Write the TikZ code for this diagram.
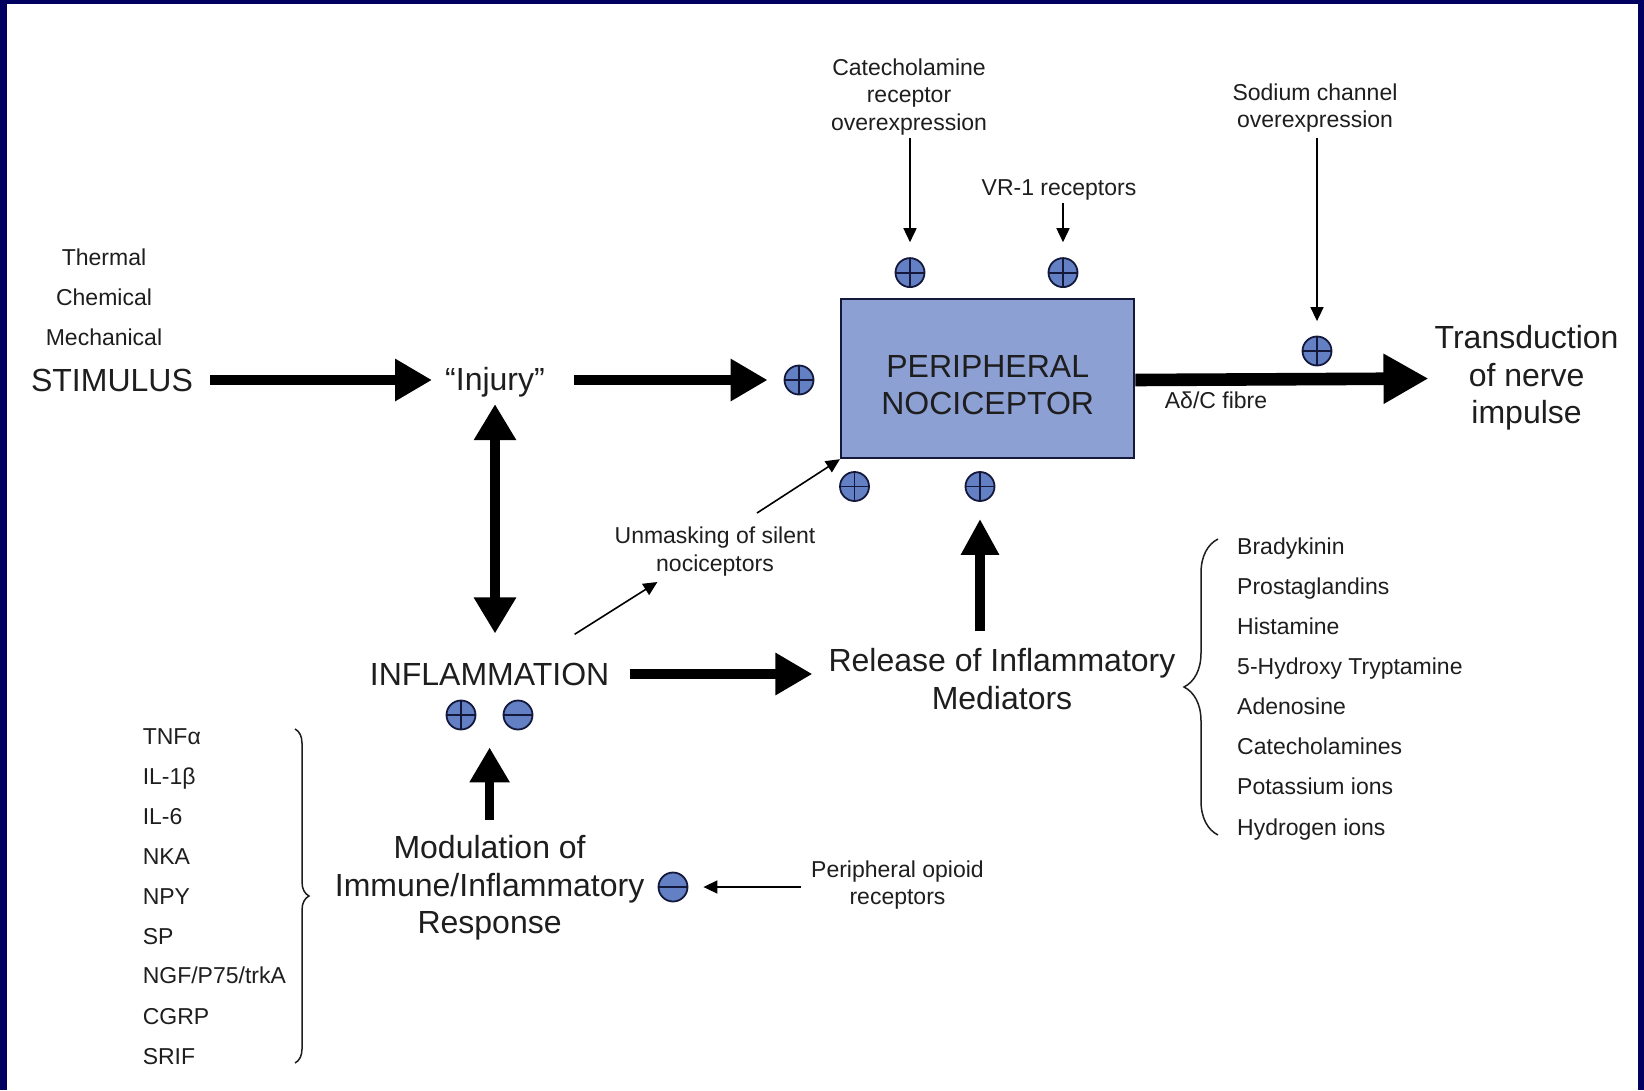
\documentclass[tikz,border=0pt]{standalone}
\usepackage{fontspec}
\setmainfont{Liberation Sans}
\usetikzlibrary{arrows.meta,decorations.pathreplacing}
\definecolor{navy}{RGB}{0,0,96}
\definecolor{txt}{RGB}{30,30,30}
\definecolor{boxfill}{RGB}{140,160,212}
\definecolor{signfill}{RGB}{100,128,196}
\definecolor{signline}{RGB}{20,25,60}
\begin{document}
\begin{tikzpicture}[x=1pt,y=-1pt,
  small/.style={font=\fontsize{23}{27.5}\selectfont,text=txt,inner sep=0pt,align=center},
  large/.style={font=\fontsize{32}{37.5}\selectfont,text=txt,inner sep=0pt,align=center},
  listitem/.style={small,anchor=west,align=left,text height=16.5pt,text depth=5pt},
  sgn/.style={circle,draw=signline,fill=signfill,line width=1.8pt,minimum size=29pt,inner sep=0pt},
  psign/.style={sgn,path picture={\draw[signline,line width=1.8pt]
      (path picture bounding box.north)--(path picture bounding box.south)
      (path picture bounding box.west)--(path picture bounding box.east);}},
  msign/.style={sgn,path picture={\draw[signline,line width=1.8pt]
      (path picture bounding box.west)--(path picture bounding box.east);}},
  bigarrow/.style={draw=black,line width=9.5pt,-{Triangle[length=37pt,width=40pt]}},
  bigdouble/.style={draw=black,line width=9.5pt,{Triangle[length=36pt,width=40pt]}-{Triangle[length=36pt,width=40pt]}},
  thinarrow/.style={draw=black,line width=1.6pt,-{Triangle[length=14pt,width=13pt]}},
  bracestyle/.style={draw=txt,line width=1.5pt,decorate}
]
% frame
\fill[navy] (0,0) rectangle (1644,1090);
\fill[white] (7,4) rectangle (1638,1090);

% stimulus side
\node[small] (thermal) at (104,257) {Thermal};
\node[small] (chemical) at (104,297) {Chemical};
\node[small] (mechanical) at (104,337) {Mechanical};
\node[large] (stim) at (112,380) {STIMULUS};
\node[large] (injury) at (495,382) {“Injury”};
\node[psign] (p1) at (799,380) {};

\draw[bigarrow,shorten <=17pt,shorten >=13pt] (stim.east) -- (stim.east -| injury.west);
\draw[bigarrow,shorten <=29pt,shorten >=16pt] (injury.east |- p1) -- (p1.west);

% nociceptor box
\node[draw=signline,line width=2pt,fill=boxfill,minimum width=293.5pt,minimum height=159.4pt,inner sep=0pt]
  (box) at (987.7,378.5) {};
\node[large] (boxtext) at (987.7,385) {PERIPHERAL\\NOCICEPTOR};

\node[psign] (pt1) at (910,272.6) {};
\node[psign] (pt2) at (1063,272.6) {};
\node[psign] (pb1) at (854.5,486.5) {};
\node[psign] (pb2) at (980,486.5) {};

\node[small] (cat) at (909,97) {Catecholamine\\receptor\\overexpression};
\draw[thinarrow,shorten <=3pt,shorten >=15pt] (cat.south -| pt1.north) -- (pt1.north);
\node[small] (vr1) at (1059,189.7) {VR-1 receptors};
\draw[thinarrow,shorten <=3pt,shorten >=15pt] (vr1.south -| pt2.north) -- (pt2.north);

\node[small] (sodium) at (1315,108) {Sodium channel\\overexpression};
\node[psign] (p3) at (1317,351) {};
\draw[thinarrow,shorten <=5pt,shorten >=14.5pt] (sodium.south -| p3.north) -- (p3.north);

% output
\node[large] (trans) at (1526.6,378) {Transduction\\of nerve\\impulse};
\draw[draw=black,line width=12.6pt,-{Triangle[length=45pt,width=47pt]},shorten >=6pt]
  (box.east |- p1) -- (box.east -| trans.west);
\node[small] (fibre) at (1216,400.5) {Aδ/C fibre};

% inflammation
\node[large] (infl) at (489.6,674) {INFLAMMATION};
\draw[bigdouble,shorten <=7pt,shorten >=29pt] (injury.south) -- (injury.south |- infl.north);
\node[psign] (pi1) at (461,715) {};
\node[msign] (mi1) at (518,715) {};

\node[large] (mod) at (489.6,888) {Modulation of\\Immune/Inflammatory\\Response};
\draw[draw=black,line width=9.5pt,-{Triangle[length=35pt,width=38pt]},shorten <=15pt,shorten >=17pt]
  (mod.north) -- (mod.north |- pi1.south);
\node[msign] (mi2) at (673,887) {};
\node[small] (opioid) at (897.5,885) {Peripheral opioid\\receptors};
\draw[thinarrow,shorten <=10pt,shorten >=15pt] (opioid.west |- mi2.east) -- (mi2.east);

\node[large] (release) at (1002,679) {Release of Inflammatory\\Mediators};
\draw[bigarrow,shorten <=20pt,shorten >=16pt] (infl.east) -- (infl.east -| release.west);
\draw[draw=black,line width=9.5pt,-{Triangle[length=36pt,width=36pt]},shorten <=17pt,shorten >=17pt]
  (release.north -| pb2.south) -- (pb2.south);

% unmasking
\node[small] (unmask) at (715,551.5) {Unmasking of silent\\nociceptors};
\coordinate (ua) at (574.6,634.3);
\coordinate (ub) at (657.4,582);
\coordinate (uc) at (757,513);
\draw[thinarrow] (ua) -- (ub);
\draw[thinarrow] (uc) -- (box.south west);

% left list
\node[listitem] (L1) at (142.6,739) {TNFα};
\node[listitem] (L2) at (142.6,779) {IL-1β};
\node[listitem] (L3) at (142.6,818.5) {IL-6};
\node[listitem] (L4) at (142.6,858.6) {NKA};
\node[listitem] (L5) at (142.6,898.5) {NPY};
\node[listitem] (L6) at (142.6,938.3) {SP};
\node[listitem] (L7) at (142.6,978) {NGF/P75/trkA};
\node[listitem] (L8) at (142.6,1019) {CGRP};
\node[listitem] (L9) at (142.6,1059) {SRIF};
\draw[bracestyle,decoration={brace,amplitude=14pt}] (295,729) -- (295,1063);

% right list
\node[listitem] (R1) at (1237,548.3) {Bradykinin};
\node[listitem] (R2) at (1237,589.2) {Prostaglandins};
\node[listitem] (R3) at (1237,629) {Histamine};
\node[listitem] (R4) at (1237,668.8) {5-Hydroxy Tryptamine};
\node[listitem] (R5) at (1237,708.7) {Adenosine};
\node[listitem] (R6) at (1237,748.5) {Catecholamines};
\node[listitem] (R7) at (1237,788.4) {Potassium ions};
\node[listitem] (R8) at (1237,829.3) {Hydrogen ions};
\draw[bracestyle,decoration={brace,amplitude=34pt}] (1218,835) -- (1218,539);
\end{tikzpicture}
\end{document}
